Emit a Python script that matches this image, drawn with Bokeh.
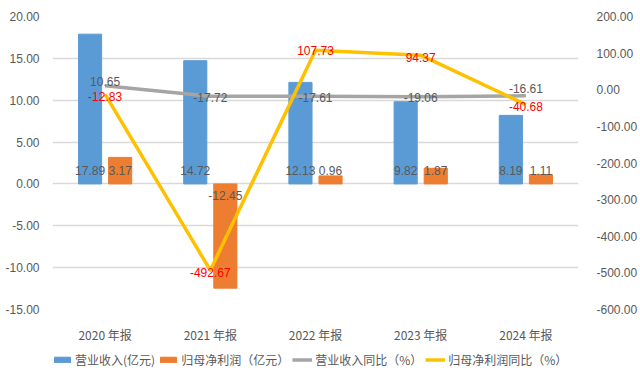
from bokeh.plotting import figure
from bokeh.layouts import column
from bokeh.models import (ColumnDataSource, FactorRange, Range1d, LinearAxis, FixedTicker,
                          NumeralTickFormatter, Legend, LegendItem)
from bokeh.transform import dodge
from bokeh.core.properties import value
from bokeh.embed import file_html
from bokeh.resources import INLINE

categories = ["2020 年报", "2021 年报", "2022 年报", "2023 年报", "2024 年报"]
revenue = [17.89, 14.72, 12.13, 9.82, 8.19]
net_profit = [3.17, -12.45, 0.96, 1.87, 1.11]
revenue_yoy = [10.65, -17.72, -17.61, -19.06, -16.61]
profit_yoy = [-12.83, -492.67, 107.73, 94.37, -40.68]
left_ticks = [-15, -10, -5, 0, 5, 10, 15, 20]
right_ticks = [-600, -500, -400, -300, -200, -100, 0, 100, 200]

series_names = ["营业收入(亿元)", "归母净利润（亿元）", "营业收入同比（%）", "归母净利润同比（%）"]

BLUE = "#5B9BD5"
ORANGE = "#ED7D31"
GRAY = "#A5A5A5"
YELLOW = "#FFC000"
TXT = "#595959"
NUM_FONT = "Liberation Sans"
CJK_FONT = "Noto Sans CJK SC"

src = ColumnDataSource(dict(
    cat=categories,
    rev=revenue,
    np=net_profit,
    ryoy=revenue_yoy,
    pyoy=profit_yoy,
    rev_lbl=[f"{v:.2f}" for v in revenue],
    np_lbl=[f"{v:.2f}" for v in net_profit],
    ryoy_lbl=[f"{v:.2f}" for v in revenue_yoy],
    pyoy_lbl=[f"{v:.2f}" for v in profit_yoy],
    rev_off=[-13 if v >= 0 else 12 for v in revenue],
    np_off=[-13 if v >= 0 else 12 for v in net_profit],
    ryoy_off=[-4, 1, 1, 1, -7],
    pyoy_off=[2, 2, 0, 2, 2],
))

p = figure(x_range=FactorRange(factors=categories, range_padding=0),
           y_range=Range1d(-15, 20),
           width=640, height=345, output_backend="svg", toolbar_location=None,
           min_border_left=52, min_border_right=62, min_border_top=16, min_border_bottom=32)
p.background_fill_color = "white"
p.border_fill_color = "white"
p.outline_line_color = None
p.extra_y_ranges = {"pct": Range1d(-600, 200)}

# grid
p.xgrid.grid_line_color = None
p.ygrid.ticker = FixedTicker(ticks=left_ticks)
p.ygrid.grid_line_color = "#D9D9D9"
p.ygrid.grid_line_width = 1.5

# left axis
ya = p.yaxis[0]
ya.ticker = FixedTicker(ticks=left_ticks)
ya.formatter = NumeralTickFormatter(format="0.00")
ya.axis_line_color = None
ya.major_tick_line_color = None
ya.minor_tick_line_color = None
ya.major_label_text_font = NUM_FONT
ya.major_label_text_font_size = "12px"
ya.major_label_text_color = TXT
ya.major_label_standoff = 7

# right axis
ra = LinearAxis(y_range_name="pct", ticker=FixedTicker(ticks=right_ticks),
                formatter=NumeralTickFormatter(format="0.00"))
ra.axis_line_color = None
ra.major_tick_line_color = None
ra.minor_tick_line_color = None
ra.major_label_text_font = NUM_FONT
ra.major_label_text_font_size = "12px"
ra.major_label_text_color = TXT
ra.major_label_standoff = 12
p.add_layout(ra, "right")

# x axis
xa = p.xaxis[0]
xa.axis_line_color = None
xa.major_tick_line_color = None
xa.minor_tick_line_color = None
xa.major_label_text_font = CJK_FONT
xa.major_label_text_font_size = "12px"
xa.major_label_text_color = TXT
xa.major_label_standoff = 10

# bars
p.vbar(x=dodge("cat", -0.143, range=p.x_range), top="rev", width=0.22, source=src,
       fill_color=BLUE, line_color=BLUE)
p.vbar(x=dodge("cat", 0.143, range=p.x_range), top="np", width=0.22, source=src,
       fill_color=ORANGE, line_color=ORANGE)

# lines
p.line(x="cat", y="ryoy", y_range_name="pct", source=src, line_color=GRAY,
       line_width=3.5, line_join="round")
p.line(x="cat", y="pyoy", y_range_name="pct", source=src, line_color=YELLOW,
       line_width=3.5, line_join="round")

# bar labels
p.text(x=dodge("cat", -0.143, range=p.x_range), y=0, text="rev_lbl", y_offset="rev_off",
       source=src, text_align="center", text_baseline="middle",
       text_font=value(NUM_FONT), text_font_size="12px", text_color=TXT)
p.text(x=dodge("cat", 0.143, range=p.x_range), y=0, text="np_lbl", y_offset="np_off",
       source=src, text_align="center", text_baseline="middle",
       text_font=value(NUM_FONT), text_font_size="12px", text_color=TXT)

# line labels
p.text(x="cat", y="ryoy", y_range_name="pct", text="ryoy_lbl", y_offset="ryoy_off",
       source=src, text_align="center", text_baseline="middle",
       text_font=value(NUM_FONT), text_font_size="12px", text_color=TXT)
p.text(x="cat", y="pyoy", y_range_name="pct", text="pyoy_lbl", y_offset="pyoy_off",
       source=src, text_align="center", text_baseline="middle",
       text_font=value(NUM_FONT), text_font_size="12px", text_color="#FF0000")

# legend strip: a second figure whose glyphs (same data) lie outside its view,
# so only the legend is visible there
lg = figure(width=640, height=36, x_range=FactorRange(factors=categories, range_padding=0),
            y_range=Range1d(5000, 5001),
            output_backend="svg", toolbar_location=None,
            x_axis_location=None, y_axis_location=None,
            min_border_left=0, min_border_right=0, min_border_top=0, min_border_bottom=0)
lg.outline_line_color = None
lg.grid.grid_line_color = None
lg.background_fill_color = "white"
lg.border_fill_color = "white"
r1 = lg.vbar(x=dodge("cat", -0.143, range=lg.x_range), top="rev", width=0.22, source=src,
             fill_color=BLUE, line_color=BLUE)
r2 = lg.vbar(x=dodge("cat", 0.143, range=lg.x_range), top="np", width=0.22, source=src,
             fill_color=ORANGE, line_color=ORANGE)
r3 = lg.line(x="cat", y="ryoy", source=src, line_color=GRAY, line_width=3.5)
r4 = lg.line(x="cat", y="pyoy", source=src, line_color=YELLOW, line_width=3.5)

legend = Legend(items=[LegendItem(label=series_names[0], renderers=[r1]),
                       LegendItem(label=series_names[1], renderers=[r2]),
                       LegendItem(label=series_names[2], renderers=[r3]),
                       LegendItem(label=series_names[3], renderers=[r4])],
                orientation="horizontal", location=(0, 13),
                label_text_font=CJK_FONT, label_text_font_size="12px", label_text_color=TXT,
                glyph_width=20, glyph_height=7, label_standoff=3, spacing=3,
                label_height=14, padding=0, margin=0,
                background_fill_alpha=0, border_line_alpha=0)
lg.add_layout(legend)

layout = column(p, lg, spacing=0)
open("out.html", "w").write(file_html(layout, INLINE))
